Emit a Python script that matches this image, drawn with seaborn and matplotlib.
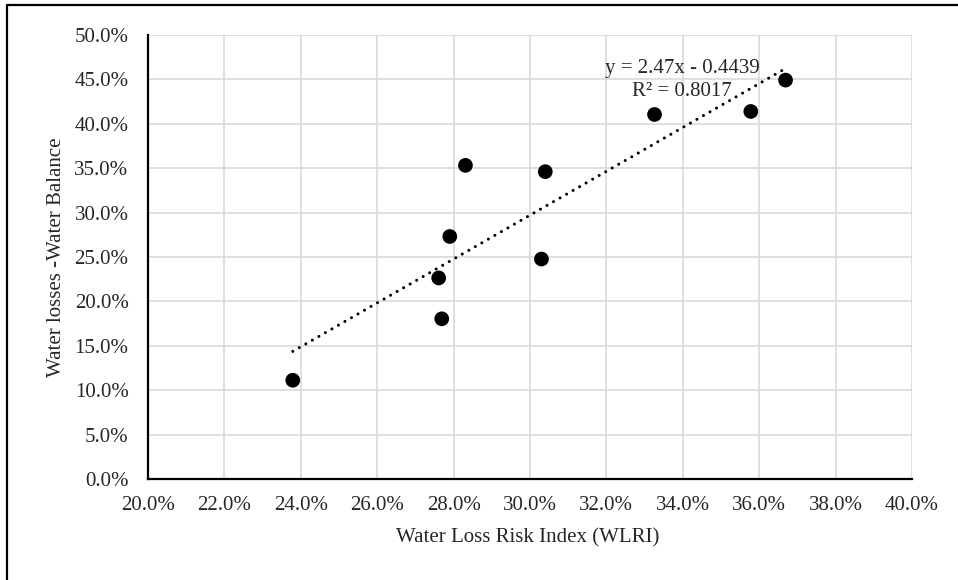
import numpy as np
import seaborn as sns
from matplotlib import pyplot as plt
from matplotlib.lines import Line2D
from matplotlib.ticker import PercentFormatter

# Water Loss Risk Index vs water losses (water balance), both as fractions
WLRI = [0.2379, 0.2769, 0.2761, 0.2790, 0.2831, 0.3040, 0.3030, 0.3326, 0.3578, 0.3669]
WATER_LOSSES = [0.1112, 0.1804, 0.2264, 0.2731, 0.3532, 0.3461, 0.2477, 0.4105, 0.4139, 0.4492]

# trendline as printed on the chart
SLOPE = 2.47
INTERCEPT = -0.4439
R2 = 0.8017

X_TICKS = np.arange(0.20, 0.401, 0.02)
Y_TICKS = np.arange(0.0, 0.501, 0.05)


def main():
    sns.set_style('white')
    plt.rcParams['font.family'] = ['Liberation Serif', 'DejaVu Serif']
    plt.rcParams['font.size'] = 15

    fig = plt.figure(figsize=(9.58, 5.8), dpi=100)
    ax = fig.add_axes([148 / 958, 1 - 479 / 580, (912 - 148) / 958, (479 - 35) / 580])

    # trendline
    xs = np.array([min(WLRI), max(WLRI)])
    ax.plot(xs, SLOPE * xs + INTERCEPT, color='black', lw=2.2,
            linestyle=(0, (0.01, 2.45)), dash_capstyle='round', zorder=3)

    sns.scatterplot(x=WLRI, y=WATER_LOSSES, color='black', s=112,
                    edgecolor='none', ax=ax, zorder=4)

    ax.text(0.3398, 0.4628, f'y = {SLOPE}x - {abs(INTERCEPT)}', ha='center', va='center')
    ax.text(0.3398, 0.436, f'R² = {R2}', ha='center', va='center')

    ax.set_xlim(0.20, 0.40)
    ax.set_ylim(0.0, 0.50)
    ax.set_xticks(X_TICKS)
    ax.set_yticks(Y_TICKS)
    ax.xaxis.set_major_formatter(PercentFormatter(1.0, decimals=1))
    ax.yaxis.set_major_formatter(PercentFormatter(1.0, decimals=1))
    ax.tick_params(axis='x', length=0, pad=12)
    ax.tick_params(axis='y', length=0, pad=14)

    ax.grid(True, color='#d9d9d9', lw=1.2)
    ax.set_axisbelow(True)
    for side in ('top', 'right'):
        ax.spines[side].set_visible(False)
    for side in ('left', 'bottom'):
        ax.spines[side].set_color('black')
        ax.spines[side].set_linewidth(1.6)

    fig.text(528 / 958, 1 - 538 / 580, 'Water Loss Risk Index (WLRI)', ha='center', va='center')
    fig.text(57 / 958, 1 - 257 / 580, 'Water losses -Water Balance', ha='center', va='center',
             rotation=90)

    # outer border (only left and top are visible in the original)
    fig.add_artist(Line2D([7 / 958, 7 / 958], [0, 1 - 5 / 580], transform=fig.transFigure,
                          color='black', lw=1.6))
    fig.add_artist(Line2D([7 / 958, 1], [1 - 5 / 580, 1 - 5 / 580], transform=fig.transFigure,
                          color='black', lw=1.6))

    fig.savefig('out.png', dpi=100)


if __name__ == '__main__':
    main()
